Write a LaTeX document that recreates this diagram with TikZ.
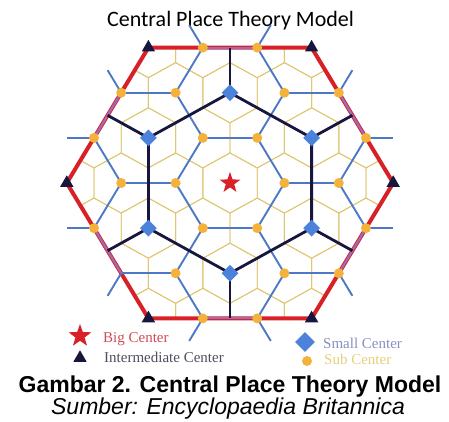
\documentclass[tikz,border=0pt]{standalone}
\usepackage{fontspec}
\setmainfont{Liberation Serif}
\setsansfont{Liberation Sans}
\newfontfamily\titlefont{Carlito}
\usetikzlibrary{calc,shapes.geometric}
\definecolor{bigred}{HTML}{D82027}
\definecolor{edgepurple}{HTML}{9D6CB7}
\definecolor{darknavy}{HTML}{16163F}
\definecolor{netblue}{HTML}{4D78C6}
\definecolor{smallblue}{HTML}{4C82DA}
\definecolor{cellyellow}{HTML}{DEC672}
\definecolor{suborange}{HTML}{F4B23A}
\definecolor{keyred}{HTML}{CF4B55}
\definecolor{keygray}{HTML}{4E4E5E}
\definecolor{keyblue}{HTML}{8790C0}
\definecolor{keyyellow}{HTML}{E6CF80}
\tikzset{
  subctr/.style={circle, fill=suborange, inner sep=0pt, minimum size=10pt},
  smallctr/.style={diamond, fill=smallblue, inner sep=0pt, minimum size=17pt},
  interctr/.style={regular polygon, regular polygon sides=3, fill=darknavy, inner sep=0pt, minimum size=15.5pt},
  bigctr/.style={star, star points=5, star point ratio=2.5, fill=bigred, inner sep=0pt, minimum size=22pt},
  yelline/.style={draw=cellyellow, line width=0.9pt},
  blueline/.style={draw=netblue, line width=1.9pt},
  purpline/.style={draw=edgepurple, line width=2.2pt},
  navyline/.style={draw=darknavy, line width=2.8pt},
  redline/.style={draw=bigred, line width=4pt, line join=round},
  keytext/.style={anchor=base west, inner sep=0pt, font=\fontsize{15}{17}\selectfont}
}

\begin{document}
\begin{tikzpicture}[x=1pt,y=1pt]
\useasboundingbox (0,0) rectangle (449,421);
\node[anchor=base, inner sep=0pt, font=\titlefont\fontsize{22}{26}\selectfont] (title) at (230.5,394) {Central Place Theory Model};

\begin{scope}[shift={(230,238)}, x={(54.4pt,0pt)}, y={(27.2pt,45.13pt)}]
\foreach \i in {-5,...,5}
  \foreach \j in {-5,...,5}
    \coordinate (p\i\j) at (\i,\j);

\begin{scope}
\clip (3,0) -- (0,3) -- (-3,3) -- (-3,0) -- (0,-3) -- (3,-3) -- cycle;
\foreach \i in {-3,...,3}
  \foreach \j in {-3,...,3}
    \draw[yelline, shift={(\i,\j)}] (1/3,1/3) -- (-1/3,2/3) -- (-2/3,1/3) -- (-1/3,-1/3) -- (1/3,-2/3) -- (2/3,-1/3) -- cycle;
\end{scope}

\draw[redline] (p30) -- (p03) -- (p-33) -- (p-30) -- (p0-3) -- (p3-3) -- cycle;

\foreach \i in {-4,...,4}
  \foreach \j in {-4,...,4}{
    \pgfmathtruncatemacro{\kind}{mod(\i-(\j)+12,3)}
    \pgfmathtruncatemacro{\hdist}{max(abs(\i),abs(\j),abs(\i+(\j)))}
    \ifnum\kind=1
      \foreach \di/\dj in {1/0,-1/1,0/-1}{
        \pgfmathtruncatemacro{\ki}{\i+(\di)}
        \pgfmathtruncatemacro{\kj}{\j+(\dj)}
        \pgfmathtruncatemacro{\ndist}{max(abs(\ki),abs(\kj),abs(\ki+(\kj)))}
        \pgfmathtruncatemacro{\lo}{min(\hdist,\ndist)}
        \pgfmathtruncatemacro{\hi}{max(\hdist,\ndist)}
        \ifnum\hi<4
          \ifnum\lo=3
            \draw[purpline] (p\i\j) -- (p\ki\kj);
          \else
            \draw[blueline] (p\i\j) -- (p\ki\kj);
          \fi
        \else\ifnum\lo=3
          \ifnum\hdist<\ndist
            \draw[blueline] (p\i\j) -- ($(p\i\j)!0.5!(p\ki\kj)$);
          \else
            \draw[blueline] (p\ki\kj) -- ($(p\ki\kj)!0.5!(p\i\j)$);
          \fi
        \fi\fi
      }
    \fi
  }

\draw[navyline, line join=round] (p11) -- (p-12) -- (p-21) -- (p-1-1) -- (p1-2) -- (p2-1) -- cycle;
\foreach \a/\b in {1/1,-1/2,-2/1,-1/-1,1/-2,2/-1}
  \draw[navyline] (p\a\b) -- ($(p00)!1.5!(p\a\b)$);

\foreach \i in {-3,...,3}
  \foreach \j in {-3,...,3}{
    \pgfmathtruncatemacro{\kind}{mod(\i-(\j)+12,3)}
    \pgfmathtruncatemacro{\hdist}{max(abs(\i),abs(\j),abs(\i+(\j)))}
    \pgfmathtruncatemacro{\lost}{and(\i==-1,\j==-2)}
    \ifnum\kind>0 \ifnum\hdist<4 \ifnum\lost=0
      \node[subctr] (o\i\j) at (p\i\j) {};
    \fi\fi\fi
  }
\foreach \a/\b [count=\n] in {1/1,-1/2,-2/1,-1/-1,1/-2,2/-1}
  \node[smallctr] (sc\n) at (p\a\b) {};
\foreach \a/\b [count=\n] in {3/0,0/3,-3/3,-3/0,0/-3,3/-3}
  \node[interctr] (ic\n) at (p\a\b) {};
\node[bigctr] (bigc) at (p00) {};
\end{scope}

\node[bigctr, minimum size=24pt] (keybig) at (80,85) {};
\node[keytext, text=keyred] (keybigtxt) at (103,78.3) {Big Center};
\node[interctr] (keyinter) at (80,63) {};
\node[keytext, text=keygray] (keyintertxt) at (104,58.3) {Intermediate Center};
\node[smallctr, minimum size=20pt] (keysmall) at (305,79) {};
\node[keytext, text=keyblue] (keysmalltxt) at (323,73) {Small Center};
\node[subctr] (keysub) at (307,60) {};
\node[keytext, text=keyyellow] (keysubtxt) at (324,56.3) {Sub Center};

\node[anchor=base, inner sep=0pt, font=\sffamily\bfseries\fontsize{23}{26}\selectfont] (caption) at (230,29) {Gambar 2. Central Place Theory Model};
\node[anchor=base, inner sep=0pt, font=\sffamily\itshape\fontsize{23}{26}\selectfont] (source) at (228,7) {Sumber: Encyclopaedia Britannica};
\end{tikzpicture}
\end{document}
